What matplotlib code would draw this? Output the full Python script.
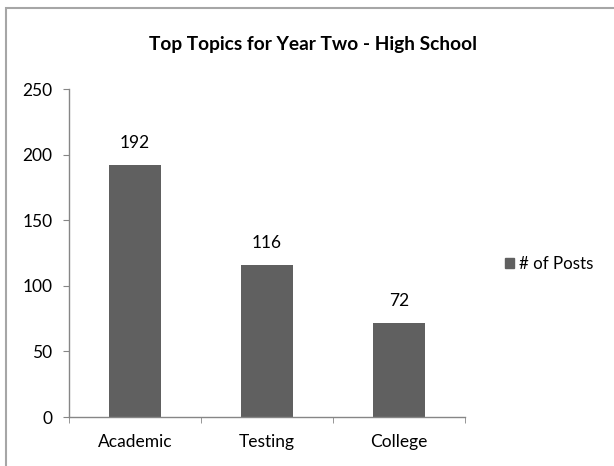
import matplotlib
matplotlib.use("Agg")
import matplotlib.pyplot as plt
from matplotlib.patches import Rectangle, Patch

categories = ["Academic", "Testing", "College"]
values = [192, 116, 72]
series_name = "# of Posts"
title = "Top Topics for Year Two - High School"
yticks = [0, 50, 100, 150, 200, 250]

plt.rcParams['font.family'] = ['Lato', 'DejaVu Sans']

W, H = 614, 466
fig = plt.figure(figsize=(W / 100, H / 100), dpi=100)
# chart border (runs off the right and bottom edges as in the reference)
fig.patches.append(Rectangle((6 / W, -0.05), 1.1, 1 - 8 / H + 0.05, transform=fig.transFigure,
                             fill=False, edgecolor='#a6a6a6', linewidth=1.5))

ax = fig.add_axes([69 / W, 1 - 417 / H, (465 - 69) / W, (417 - 89) / H])
x = list(range(len(categories)))
ax.bar(x, values, width=0.39, color='#606060', label=series_name, zorder=2)
ax.set_xlim(-0.5, len(categories) - 0.5)
ax.set_ylim(0, 250)
ax.set_yticks(yticks)
ax.set_yticklabels([str(t) for t in yticks], fontsize=12.5)
ax.set_xticks(x)
ax.set_xticklabels(categories, fontsize=12.5)
ax.tick_params(axis='x', which='major', length=0, pad=12)
ax.tick_params(axis='y', length=4.3, color='#868686', pad=7.5)
ax.set_xticks([i - 0.5 for i in range(len(categories) + 1)], minor=True)
ax.tick_params(axis='x', which='minor', length=4.3, color='#868686', direction='out')
for s in ['top', 'right']:
    ax.spines[s].set_visible(False)
for s in ['left', 'bottom']:
    ax.spines[s].set_color('#868686')
    ax.spines[s].set_linewidth(1.0)

for xi, v in zip(x, values):
    ax.annotate(str(v), (xi, v), xytext=(0, 12), textcoords='offset points',
                ha='center', va='baseline', fontsize=12.5)

fig.text(313 / W, 1 - 50 / H, title, ha='center', va='baseline', fontsize=13.8, fontweight='bold')

fig.legend(handles=[Patch(color='#606060', label=series_name)], loc='center left',
           bbox_to_anchor=(505 / W, 1 - 264 / H), frameon=False, fontsize=12.2,
           handlelength=0.52, handleheight=0.52, handletextpad=0.3,
           borderpad=0, borderaxespad=0)

fig.savefig("out.png", dpi=100)
